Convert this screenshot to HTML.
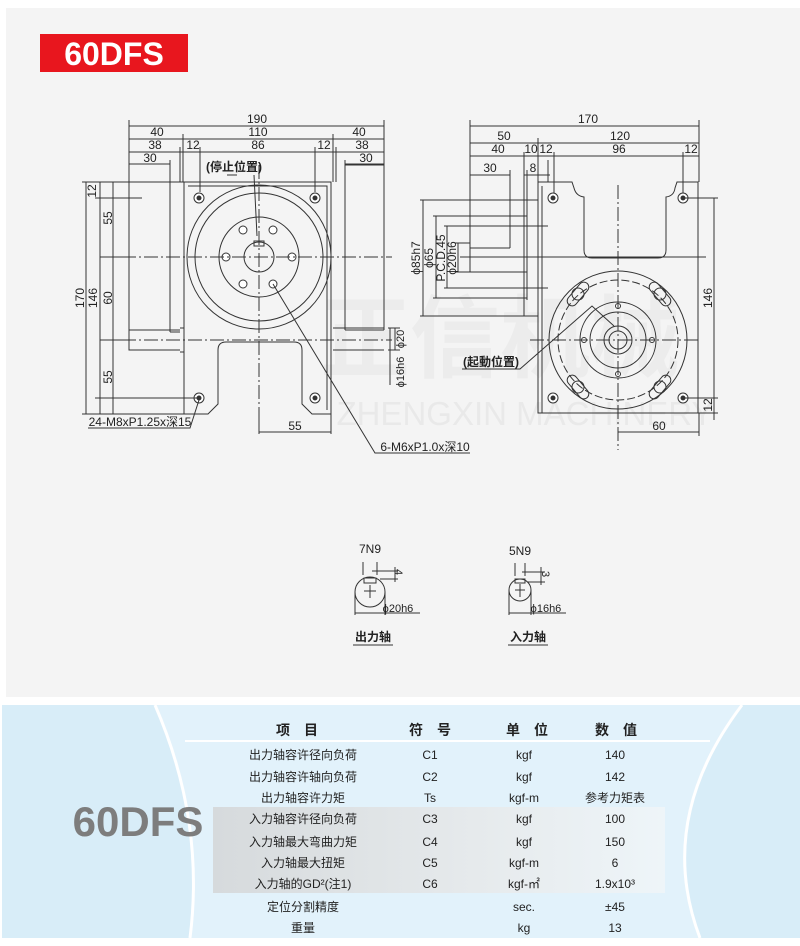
<!DOCTYPE html>
<html><head><meta charset="utf-8"><style>
html,body{margin:0;padding:0;background:#fff}
svg{display:block}
text{font-family:"Liberation Sans","Noto Sans CJK SC",sans-serif}
</style></head><body>
<svg width="800" height="946" viewBox="0 0 800 946" xmlns="http://www.w3.org/2000/svg">
<defs>
<linearGradient id="gb" x1="0" x2="1" y1="0" y2="0">
<stop offset="0" stop-color="#d2d2d2"/><stop offset="0.6" stop-color="#e8e8e8"/><stop offset="1" stop-color="#f2f6f8"/>
</linearGradient>
</defs>
<rect x="6" y="8" width="794" height="689" fill="#f4f4f4"/>
<rect x="40" y="34" width="148" height="38" fill="#e8161e"/>
<text x="114" y="65" font-size="32" font-weight="bold" fill="#fff" text-anchor="middle">60DFS</text>

<!-- watermark -->
<text x="500" y="370" font-size="90" font-weight="bold" fill="#ececec" text-anchor="middle" font-family="Noto Sans CJK SC,sans-serif">正信机械</text>
<text x="525" y="425" font-size="33" fill="#e9e9e9" text-anchor="middle">ZHENGXIN MACHINERY</text>

<g stroke="#333" stroke-width="1" fill="none">
<!-- LEFT VIEW dims -->
<line x1="129" y1="126" x2="384" y2="126"/>
<line x1="129" y1="139" x2="384" y2="139"/>
<line x1="129" y1="152" x2="384" y2="152"/>
<line x1="129" y1="164" x2="170" y2="164"/><line x1="345" y1="164" x2="384" y2="164"/>
<line x1="129" y1="120" x2="129" y2="330"/><line x1="384" y1="120" x2="384" y2="330"/>
<line x1="183" y1="134" x2="183" y2="182"/><line x1="333" y1="134" x2="333" y2="182"/>
<line x1="180" y1="147" x2="180" y2="182"/><line x1="336" y1="147" x2="336" y2="182"/>
<line x1="200" y1="147" x2="200" y2="192"/><line x1="315" y1="147" x2="315" y2="192"/>
<line x1="170" y1="160" x2="170" y2="332"/><line x1="345" y1="160" x2="345" y2="330"/>
<!-- body -->
<path d="M184 182 H331 V414 H312 L302 404 V350 Q302 342 294 342 H226 Q218 342 218 350 V404 L208 414 H184 Z"/>
<path d="M188 186 H327 V410"/>
<path d="M129 165 V350 H180 M129 330 H180 M170 332 H180"/>
<line x1="180" y1="328" x2="184" y2="328"/><line x1="180" y1="352" x2="184" y2="352"/>
<path d="M345 165 H384 M345 330 H384 M333 328 H384 M333 350 H384"/>
<circle cx="259" cy="257" r="72"/><circle cx="259" cy="257" r="64"/><circle cx="259" cy="257" r="40"/><circle cx="259" cy="257" r="15"/>
<rect x="254" y="241" width="10" height="5"/>
<g fill="#fff">
<circle cx="199" cy="198" r="5"/><circle cx="315" cy="198" r="5"/><circle cx="199" cy="398" r="5"/><circle cx="315" cy="398" r="5"/>
<circle cx="226" cy="257" r="4"/><circle cx="292" cy="257" r="4"/><circle cx="243" cy="230" r="4"/><circle cx="273" cy="230" r="4"/><circle cx="243" cy="284" r="4"/><circle cx="273" cy="284" r="4"/>
</g>
<g fill="#333"><circle cx="199" cy="198" r="2"/><circle cx="315" cy="198" r="2"/><circle cx="199" cy="398" r="2"/><circle cx="315" cy="398" r="2"/></g>
<line x1="100" y1="257" x2="392" y2="257" stroke-dasharray="14 3 2 3"/>
<line x1="100" y1="340" x2="392" y2="340" stroke-dasharray="14 3 2 3"/>
<line x1="259" y1="165" x2="259" y2="430" stroke-dasharray="14 3 2 3"/>
<line x1="86" y1="182" x2="86" y2="414"/><line x1="100" y1="182" x2="100" y2="414"/><line x1="113" y1="182" x2="113" y2="414"/>
<line x1="82" y1="182" x2="184" y2="182"/><line x1="82" y1="414" x2="184" y2="414"/>
<line x1="95" y1="198" x2="142" y2="198"/><line x1="95" y1="398" x2="199" y2="398"/>
<line x1="108" y1="257" x2="129" y2="257"/><line x1="108" y1="340" x2="129" y2="340"/>
<line x1="388" y1="328" x2="400" y2="328"/><line x1="388" y1="350" x2="400" y2="350"/>
<line x1="390" y1="328" x2="390" y2="385"/><line x1="395" y1="328" x2="395" y2="350"/>
<line x1="259" y1="414" x2="259" y2="434"/><line x1="331" y1="414" x2="331" y2="434"/>
<line x1="259" y1="432" x2="331" y2="432"/>
<path d="M88 428 H190 L199 400"/>
<path d="M273 284 L375 453 H470"/>
<path d="M237 175 H227 M254 175 L257 236"/>

<!-- RIGHT VIEW -->
<line x1="470" y1="126" x2="699" y2="126"/>
<line x1="470" y1="143" x2="699" y2="143"/>
<line x1="470" y1="156" x2="699" y2="156"/>
<line x1="470" y1="175" x2="510" y2="175"/><line x1="524" y1="175" x2="550" y2="175"/>
<line x1="470" y1="120" x2="470" y2="272"/><line x1="699" y1="120" x2="699" y2="182"/>
<line x1="538" y1="138" x2="538" y2="182"/><line x1="524" y1="152" x2="524" y2="316"/>
<line x1="527" y1="170" x2="527" y2="300"/><line x1="548" y1="160" x2="548" y2="182"/>
<line x1="554" y1="152" x2="554" y2="198"/><line x1="683" y1="152" x2="683" y2="198"/>
<line x1="510" y1="170" x2="510" y2="248"/>
<path d="M538 182 H572 L574 188 Q576 196 584 197 V250 Q584 258 592 258 H658 Q666 258 666 250 V197 Q674 196 675 188 L677 182 H698 V413 H538 Z"/>
<path d="M542 186 V413"/>
<circle cx="618" cy="340" r="69"/><circle cx="618" cy="340" r="60" stroke-dasharray="8 3"/>
<circle cx="618" cy="340" r="38"/><circle cx="618" cy="340" r="28"/><circle cx="618" cy="340" r="14"/><circle cx="618" cy="340" r="9"/>
<g fill="#fff">
<circle cx="553" cy="198" r="5"/><circle cx="683" cy="198" r="5"/><circle cx="553" cy="398" r="5"/><circle cx="683" cy="398" r="5"/>
<circle cx="618" cy="306" r="2.5"/><circle cx="618" cy="374" r="2.5"/><circle cx="584" cy="340" r="2.5"/><circle cx="652" cy="340" r="2.5"/>
</g>
<g fill="#333"><circle cx="553" cy="198" r="2"/><circle cx="683" cy="198" r="2"/><circle cx="553" cy="398" r="2"/><circle cx="683" cy="398" r="2"/></g>
<g>
<rect x="-14" y="-5" width="28" height="10" rx="5" transform="translate(578 294) rotate(-50)"/><circle cx="578" cy="294" r="6"/>
<rect x="-14" y="-5" width="28" height="10" rx="5" transform="translate(660 294) rotate(50)"/><circle cx="660" cy="294" r="6"/>
<rect x="-14" y="-5" width="28" height="10" rx="5" transform="translate(578 387) rotate(50)"/><circle cx="578" cy="387" r="6"/>
<rect x="-14" y="-5" width="28" height="10" rx="5" transform="translate(660 387) rotate(-50)"/><circle cx="660" cy="387" r="6"/>
</g>
<line x1="530" y1="340" x2="700" y2="340" stroke-dasharray="14 3 2 3"/>
<line x1="618" y1="185" x2="618" y2="450" stroke-dasharray="14 3 2 3"/>
<line x1="460" y1="257" x2="706" y2="257"/>
<line x1="420" y1="200" x2="538" y2="200"/><line x1="420" y1="316" x2="538" y2="316"/>
<line x1="433" y1="216" x2="527" y2="216"/><line x1="433" y1="298" x2="527" y2="298"/>
<line x1="444" y1="226" x2="548" y2="226"/><line x1="444" y1="288" x2="548" y2="288"/>
<line x1="455" y1="243" x2="470" y2="243"/><line x1="455" y1="272" x2="527" y2="272"/>
<line x1="470" y1="248" x2="510" y2="248"/>
<line x1="423" y1="200" x2="423" y2="316"/><line x1="436" y1="216" x2="436" y2="298"/>
<line x1="447" y1="226" x2="447" y2="288"/><line x1="458" y1="243" x2="458" y2="272"/>
<line x1="683" y1="198" x2="718" y2="198"/><line x1="683" y1="398" x2="718" y2="398"/>
<line x1="714" y1="198" x2="714" y2="420"/><line x1="698" y1="413" x2="718" y2="413"/>
<line x1="618" y1="432" x2="699" y2="432"/><line x1="699" y1="413" x2="699" y2="436"/>
<path d="M462 369 H520 L592 306 L614 326"/>

<!-- shaft sections -->
<circle cx="370" cy="592" r="15"/><path d="M364 578 H376 V583 H364 Z"/><path d="M370 585 V598 M364 591 H376"/>
<line x1="363" y1="562" x2="363" y2="575"/><line x1="377" y1="562" x2="377" y2="575"/>
<line x1="372" y1="571" x2="398" y2="571"/><line x1="380" y1="579" x2="398" y2="579"/><line x1="395" y1="567" x2="395" y2="582"/>
<line x1="355" y1="592" x2="355" y2="615"/><line x1="385" y1="592" x2="385" y2="615"/><line x1="355" y1="613" x2="420" y2="613"/>
<circle cx="520" cy="590" r="11"/><path d="M515 579 H525 V583 H515 Z"/><path d="M520 584 V597 M515 590 H525"/>
<line x1="515" y1="563" x2="515" y2="576"/><line x1="525" y1="563" x2="525" y2="576"/>
<line x1="522" y1="572" x2="545" y2="572"/><line x1="527" y1="582" x2="545" y2="582"/><line x1="541" y1="567" x2="541" y2="585"/>
<line x1="509" y1="590" x2="509" y2="615"/><line x1="531" y1="590" x2="531" y2="615"/><line x1="509" y1="613" x2="566" y2="613"/>
<line x1="353" y1="645" x2="393" y2="645"/><line x1="508" y1="645" x2="548" y2="645"/>
</g>

<g font-size="12" fill="#222" text-anchor="middle">
<text x="257" y="123">190</text>
<text x="157" y="136">40</text><text x="258" y="136">110</text><text x="359" y="136">40</text>
<text x="155" y="149">38</text><text x="193" y="149">12</text><text x="258" y="149">86</text><text x="324" y="149">12</text><text x="362" y="149">38</text>
<text x="150" y="162">30</text><text x="366" y="162">30</text>
<text x="234" y="171" font-weight="bold" font-size="12">(停止位置)</text>
<text transform="translate(96 191) rotate(-90)">12</text>
<text transform="translate(112 218) rotate(-90)">55</text>
<text transform="translate(112 298) rotate(-90)">60</text>
<text transform="translate(112 377) rotate(-90)">55</text>
<text transform="translate(97 298) rotate(-90)">146</text>
<text transform="translate(84 298) rotate(-90)">170</text>
<text transform="translate(404 339) rotate(-90)" font-size="11">ϕ20</text>
<text transform="translate(404 372) rotate(-90)" font-size="11">ϕ16h6</text>
<text x="295" y="430">55</text>
<text x="140" y="426">24-M8xP1.25x深15</text>
<text x="425" y="451">6-M6xP1.0x深10</text>

<text x="588" y="123">170</text>
<text x="504" y="140">50</text><text x="620" y="140">120</text>
<text x="498" y="153">40</text><text x="531" y="153">10</text><text x="546" y="153">12</text><text x="619" y="153">96</text><text x="691" y="153">12</text>
<text x="490" y="172">30</text><text x="533" y="172">8</text>
<text transform="translate(420 258) rotate(-90)">ϕ85h7</text>
<text transform="translate(433 258) rotate(-90)">ϕ65</text>
<text transform="translate(445 258) rotate(-90)">P.C.D.45</text>
<text transform="translate(456 258) rotate(-90)">ϕ20h6</text>
<text x="491" y="366" font-weight="bold">(起動位置)</text>
<text transform="translate(712 298) rotate(-90)">146</text>
<text transform="translate(712 405) rotate(-90)">12</text>
<text x="659" y="430">60</text>

<text x="370" y="553">7N9</text><text x="520" y="555">5N9</text>
<text transform="translate(395 572) rotate(90)" font-size="11">4</text>
<text transform="translate(542 574) rotate(90)" font-size="11">3</text>
<text x="398" y="612" font-size="11">ϕ20h6</text><text x="546" y="612" font-size="11">ϕ16h6</text>
<text x="373" y="641" font-weight="bold">出力轴</text><text x="528" y="641" font-weight="bold">入力轴</text>
</g>

<!-- TABLE -->
<rect x="2" y="705" width="798" height="233" fill="#d8edf8"/>
<path d="M155 705 Q205 820 190 938 L700 938 Q655 820 742 705 Z" fill="#e2f2fb"/>
<path d="M155 705 Q205 820 190 938" stroke="#fff" stroke-width="3" fill="none"/>
<path d="M742 705 Q655 820 700 938" stroke="#fff" stroke-width="3" fill="none"/>
<rect x="213" y="807" width="452" height="86" fill="url(#gb)" opacity="0.75"/>
<line x1="185" y1="741" x2="710" y2="741" stroke="#fff" stroke-width="2"/>
<text x="138" y="836" font-size="42" font-weight="bold" fill="#7d7d7d" text-anchor="middle">60DFS</text>
<g font-size="14" font-weight="bold" fill="#222" text-anchor="middle">
<text x="297" y="735">项　目</text><text x="430" y="735">符　号</text><text x="527" y="735">单　位</text><text x="616" y="735">数　值</text>
</g>
<g font-size="12" fill="#222" text-anchor="middle">
<text x="303" y="759">出力轴容许径向负荷</text><text x="430" y="759">C1</text><text x="524" y="759">kgf</text><text x="615" y="759">140</text>
<text x="303" y="781">出力轴容许轴向负荷</text><text x="430" y="781">C2</text><text x="524" y="781">kgf</text><text x="615" y="781">142</text>
<text x="303" y="802">出力轴容许力矩</text><text x="430" y="802">Ts</text><text x="524" y="802">kgf-m</text><text x="615" y="802">参考力矩表</text>
<text x="303" y="823">入力轴容许径向负荷</text><text x="430" y="823">C3</text><text x="524" y="823">kgf</text><text x="615" y="823">100</text>
<text x="303" y="846">入力轴最大弯曲力矩</text><text x="430" y="846">C4</text><text x="524" y="846">kgf</text><text x="615" y="846">150</text>
<text x="303" y="867">入力轴最大扭矩</text><text x="430" y="867">C5</text><text x="524" y="867">kgf-m</text><text x="615" y="867">6</text>
<text x="303" y="888">入力轴的GD²(注1)</text><text x="430" y="888">C6</text><text x="524" y="888">kgf-㎡</text><text x="615" y="888">1.9x10³</text>
<text x="303" y="911">定位分割精度</text><text x="524" y="911">sec.</text><text x="615" y="911">±45</text>
<text x="303" y="932">重量</text><text x="524" y="932">kg</text><text x="615" y="932">13</text>
</g>
</svg>
</body></html>
